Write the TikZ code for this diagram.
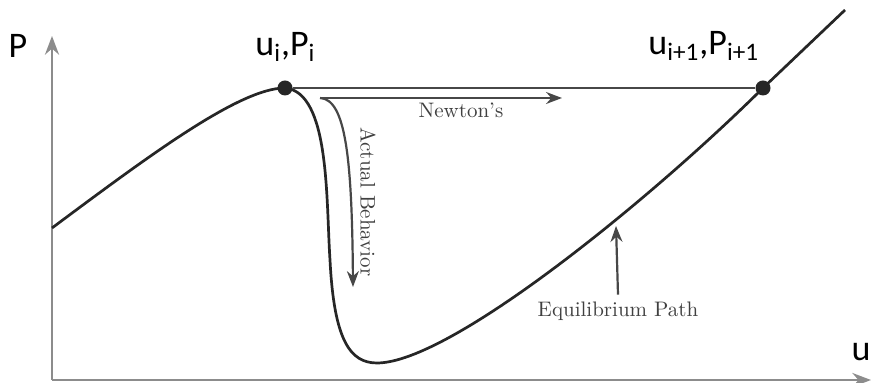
\documentclass[tikz,border=0pt]{standalone}
\usepackage{fontspec}
\newfontfamily\labfont{Carlito}
\usetikzlibrary{arrows.meta}

\begin{document}
\begin{tikzpicture}[x=0.5pt,y=-0.5pt,>=Stealth,
  eqpath/.style={line width=1.35pt,black!85},
  axis/.style={line width=1.4pt,black!45},
  guide/.style={line width=1.1pt,black!72},
  ptdot/.style={circle,fill=black!85,inner sep=0pt,minimum size=7.5pt},
  biglbl/.style={font=\labfont\fontsize{18}{20}\selectfont,inner sep=0pt},
  smalllbl/.style={font=\fontsize{10.5}{12}\selectfont,text=black!75}]
  \useasboundingbox[fill=white] (0,0) rectangle (872,383);
  % axes
  \coordinate (O) at (52,380);
  \coordinate (ytop) at (52,36);
  \coordinate (xend) at (871,380);
  \draw[axis,->] (O) -- (ytop);
  \draw[axis,->] (O) -- (xend);
  \node[biglbl] (plbl) at (18,46) {P};
  \node[biglbl] (ulbl) at (861,352) {u};
  % equilibrium path
  \coordinate (ui) at (285,88);
  \coordinate (unext) at (763,88);
  \draw[eqpath] (52,228) .. controls (150,155) and (240,88) .. (ui)
    .. controls (330,92) and (326,200) .. (330,260)
    .. controls (334,340) and (350,363) .. (377,363)
    .. controls (450,363) and (650,200) .. (unext) -- (845,10);
  \node[ptdot] (dotA) at (ui) {};
  \node[ptdot] (dotB) at (unext) {};
  \draw[guide] (dotA) -- (dotB);
  \node[biglbl,anchor=base west] (lblA) at (255,56) {u\textsubscript{i},P\textsubscript{i}};
  \node[biglbl,anchor=base west] (lblB) at (648,55) {u\textsubscript{i+1},P\textsubscript{i+1}};
  % Newton vs actual
  \coordinate (split) at (320,98);
  \coordinate (newtend) at (562,98);
  \coordinate (actend) at (353,287);
  \draw[guide,->] (split) -- (newtend);
  \draw[guide,->] (split) .. controls (346,99) and (352,160) .. (actend);
  \node[smalllbl] (newtlbl) at (461,110) {Newton's};
  \node[smalllbl,rotate=-90] (actlbl) at (368,202) {Actual Behavior};
  % pointer to the path
  \node[smalllbl] (eqlbl) at (618,311) {Equilibrium Path};
  \coordinate (eqhit) at (616,226);
  \draw[guide,->] (eqlbl.north) -- (eqhit);
\end{tikzpicture}
\end{document}
